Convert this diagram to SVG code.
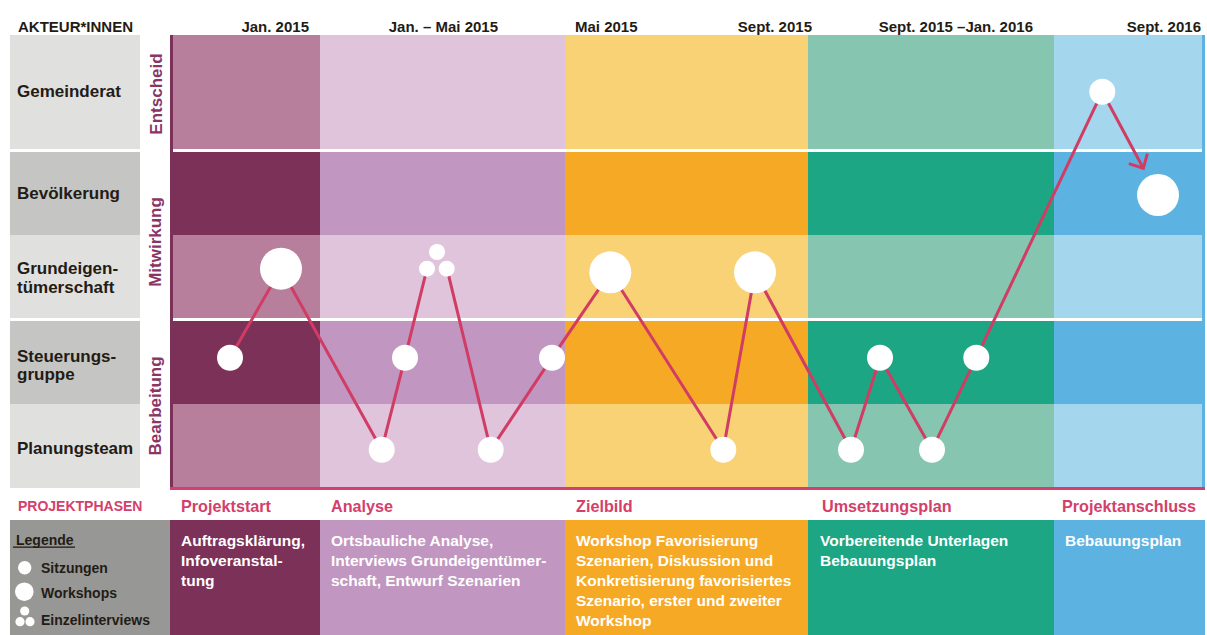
<svg xmlns="http://www.w3.org/2000/svg" width="1207" height="635" viewBox="0 0 1207 635">
<defs>
<style>
text{font-family:"Liberation Sans",Arial,sans-serif;font-weight:700}
.hd{font-size:15px;fill:#231c14}
.act{font-size:17px;fill:#231c14}
.rot{font-size:17px;fill:#8a3566}
.ph{font-size:16.2px;fill:#d4406b}
.phh{font-size:14px;fill:#d4406b}
.desc{font-size:15.5px;fill:#ffffff}
.leg{font-size:14px;fill:#231c14}
.lb{fill:#e0e0df}
.db{fill:#c5c5c3}
.wl{fill:#ffffff}
.node{fill:#ffffff}
.conn{fill:none;stroke:#d13c65;stroke-width:3;stroke-linejoin:round}
</style>
<marker id="arrow" markerUnits="userSpaceOnUse" markerWidth="30" markerHeight="30" refX="0" refY="0" orient="auto" overflow="visible">
<path d="M-11,-10.5 L0,0 L-11,10.5" fill="none" stroke="#d13c65" stroke-width="3"/>
</marker>
</defs>

<!-- header -->
<g id="header">
<text class="hd" x="18" y="32">AKTEUR*INNEN</text>
<text class="hd" x="309" y="32" text-anchor="end">Jan. 2015</text>
<text class="hd" x="498" y="32" text-anchor="end">Jan. – Mai 2015</text>
<text class="hd" x="575" y="32">Mai 2015</text>
<text class="hd" x="812" y="32" text-anchor="end">Sept. 2015</text>
<text class="hd" x="1033" y="32" text-anchor="end">Sept. 2015 –Jan. 2016</text>
<text class="hd" x="1201" y="32" text-anchor="end">Sept. 2016</text>
</g>

<!-- grid background -->
<g id="grid">
<rect x="173" y="35" width="147" height="452" fill="#b87f9c"/>
<rect x="173" y="152" width="147" height="83" fill="#7b3158"/>
<rect x="173" y="321" width="147" height="83" fill="#7b3158"/>
<rect x="320" y="35" width="245" height="452" fill="#dfc4dc"/>
<rect x="320" y="152" width="245" height="83" fill="#c197c1"/>
<rect x="320" y="321" width="245" height="83" fill="#c197c1"/>
<rect x="565" y="35" width="243" height="452" fill="#f8d274"/>
<rect x="565" y="152" width="243" height="83" fill="#f6a925"/>
<rect x="565" y="321" width="243" height="83" fill="#f6a925"/>
<rect x="808" y="35" width="246" height="452" fill="#86c5b0"/>
<rect x="808" y="152" width="246" height="83" fill="#1ca683"/>
<rect x="808" y="321" width="246" height="83" fill="#1ca683"/>
<rect x="1054" y="35" width="148" height="452" fill="#a4d6ee"/>
<rect x="1054" y="152" width="148" height="83" fill="#5cb2e0"/>
<rect x="1054" y="321" width="148" height="83" fill="#5cb2e0"/>
<rect class="wl" x="173" y="149" width="1029" height="3"/>
<rect class="wl" x="173" y="318" width="1029" height="3"/>
<rect x="170" y="35" width="3" height="452" fill="#7b3158"/>
<rect x="1202" y="35" width="3" height="452" fill="#5cb2e0"/>
<rect x="170" y="487" width="1035" height="3" fill="#d4406b"/>
</g>

<!-- actor labels -->
<g id="actor-gemeinderat"><rect class="lb" x="10" y="35" width="130" height="114"/><text class="act" x="17" y="97">Gemeinderat</text></g>
<g id="actor-bevoelkerung"><rect class="db" x="10" y="152" width="130" height="83"/><text class="act" x="17" y="199">Bevölkerung</text></g>
<g id="actor-grundeigentuemerschaft"><rect class="lb" x="10" y="235" width="130" height="83"/><text class="act" x="17" y="274">Grundeigen-</text><text class="act" x="17" y="293">tümerschaft</text></g>
<g id="actor-steuerungsgruppe"><rect class="db" x="10" y="321" width="130" height="83"/><text class="act" x="17" y="362">Steuerungs-</text><text class="act" x="17" y="380">gruppe</text></g>
<g id="actor-planungsteam"><rect class="lb" x="10" y="404" width="130" height="84"/><text class="act" x="17" y="454">Planungsteam</text></g>

<g id="levels">
<text class="rot" transform="translate(161.5,94) rotate(-90)" text-anchor="middle">Entscheid</text>
<text class="rot" transform="translate(160.5,242) rotate(-90)" text-anchor="middle">Mitwirkung</text>
<text class="rot" transform="translate(160.5,406) rotate(-90)" text-anchor="middle">Bearbeitung</text>
</g>

<!-- connectors -->
<g id="connectors">
<polyline class="conn" points="230,357.7 281,268.7 381.7,449.7 405,357.7 427,268.7"/>
<polyline class="conn" points="447,268.7 490.7,449.7 552,357.7 610.3,272.3 723.3,449.7 755,272.3 851,449.7 880,357.7 932,449.7 976.3,357.7 1102.3,91.7"/>
<line class="conn" x1="1102.3" y1="91.7" x2="1143.3" y2="168.3" marker-end="url(#arrow)"/>
</g>

<!-- nodes -->
<g id="n1"><circle class="node" cx="230" cy="357.7" r="13"/></g>
<g id="n2"><circle class="node" cx="281" cy="268.7" r="21"/></g>
<g id="n3"><circle class="node" cx="381.7" cy="449.7" r="13"/></g>
<g id="n4"><circle class="node" cx="405" cy="357.7" r="13"/></g>
<g id="n5"><circle class="node" cx="437" cy="252" r="8"/><circle class="node" cx="427" cy="268.7" r="8"/><circle class="node" cx="446.7" cy="268.7" r="8"/></g>
<g id="n6"><circle class="node" cx="490.7" cy="449.7" r="13"/></g>
<g id="n7"><circle class="node" cx="552" cy="357.7" r="13"/></g>
<g id="n8"><circle class="node" cx="610.3" cy="272.3" r="21"/></g>
<g id="n9"><circle class="node" cx="723.3" cy="449.7" r="13"/></g>
<g id="n10"><circle class="node" cx="755" cy="272.3" r="21"/></g>
<g id="n11"><circle class="node" cx="851" cy="449.7" r="13"/></g>
<g id="n12"><circle class="node" cx="880" cy="357.7" r="13"/></g>
<g id="n13"><circle class="node" cx="932" cy="449.7" r="13"/></g>
<g id="n14"><circle class="node" cx="976.3" cy="357.7" r="13"/></g>
<g id="n15"><circle class="node" cx="1102.3" cy="91.7" r="13"/></g>
<g id="n16"><circle class="node" cx="1158" cy="195" r="21"/></g>

<!-- phases -->
<g id="phases">
<text class="phh" x="18" y="511">PROJEKTPHASEN</text>
<text class="ph" x="181" y="512">Projektstart</text>
<text class="ph" x="331" y="512">Analyse</text>
<text class="ph" x="576" y="512">Zielbild</text>
<text class="ph" x="822" y="512">Umsetzungsplan</text>
<text class="ph" x="1062" y="512">Projektanschluss</text>
</g>

<g id="legend">
<rect x="10" y="520" width="160" height="115" fill="#979795"/>
<text class="leg" x="16" y="545">Legende</text>
<rect x="13" y="546.5" width="62" height="1.3" fill="#231c14"/>
<circle class="node" cx="24.7" cy="567.7" r="6.7"/>
<text class="leg" x="41" y="572.5">Sitzungen</text>
<circle class="node" cx="24.3" cy="591.7" r="9.3"/>
<text class="leg" x="41" y="598">Workshops</text>
<circle class="node" cx="24.7" cy="611" r="4.6"/>
<circle class="node" cx="20" cy="621.7" r="4.6"/>
<circle class="node" cx="30" cy="621.7" r="4.6"/>
<text class="leg" x="41" y="625">Einzelinterviews</text>
</g>

<g id="phase-projektstart"><rect x="170" y="520" width="150" height="115" fill="#7b3158"/>
<text class="desc" x="181" y="546">Auftragsklärung,</text><text class="desc" x="181" y="566">Infoveranstal-</text><text class="desc" x="181" y="586">tung</text></g>
<g id="phase-analyse"><rect x="320" y="520" width="245" height="115" fill="#c197c1"/>
<text class="desc" x="331" y="546">Ortsbauliche Analyse,</text><text class="desc" x="331" y="566">Interviews Grundeigentümer-</text><text class="desc" x="331" y="586">schaft, Entwurf Szenarien</text></g>
<g id="phase-zielbild"><rect x="565" y="520" width="243" height="115" fill="#f6a925"/>
<text class="desc" x="576" y="546">Workshop Favorisierung</text><text class="desc" x="576" y="566">Szenarien, Diskussion und</text><text class="desc" x="576" y="586">Konkretisierung favorisiertes</text><text class="desc" x="576" y="606">Szenario, erster und zweiter</text><text class="desc" x="576" y="626">Workshop</text></g>
<g id="phase-umsetzungsplan"><rect x="808" y="520" width="246" height="115" fill="#1ca683"/>
<text class="desc" x="820" y="546">Vorbereitende Unterlagen</text><text class="desc" x="820" y="566">Bebauungsplan</text></g>
<g id="phase-projektanschluss"><rect x="1054" y="520" width="151" height="115" fill="#5cb2e0"/>
<text class="desc" x="1065" y="546">Bebauungsplan</text></g>
</svg>
